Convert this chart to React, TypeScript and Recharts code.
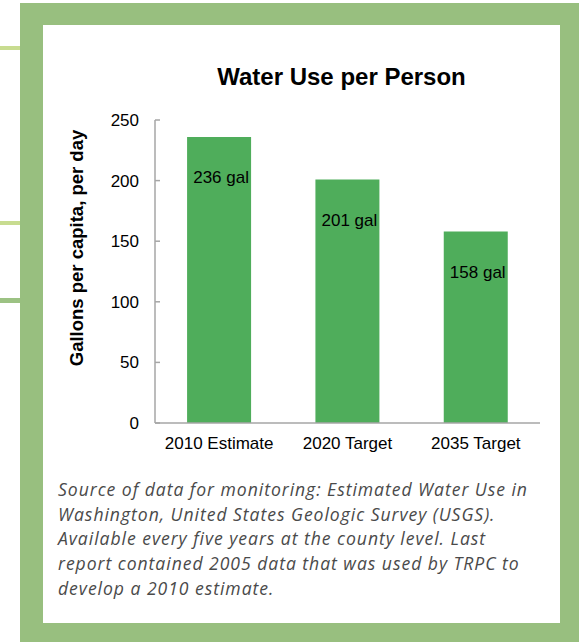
import React from "react";
import { BarChart, Bar, XAxis, YAxis, LabelList, Label } from "recharts";

const categories = ["2010 Estimate", "2020 Target", "2035 Target"];
const gallons = [236, 201, 158];
const yTicks = [0, 50, 100, 150, 200, 250];
const title = "Water Use per Person";
const yTitle = "Gallons per capita, per day";
const captionLines = [
  "Source of data for monitoring: Estimated Water Use in",
  "Washington, United States Geologic Survey (USGS).",
  "Available every five years at the county level. Last",
  "report contained 2005 data that was used by TRPC to",
  "develop a 2010 estimate.",
];

const data = categories.map((c, i) => ({ name: c, value: gallons[i] }));

const FONT = "'Liberation Sans', Arial, sans-serif";
const AXIS = "#a6a6a6";

const BarLabel = (props: any) => {
  const { x, y, width, value } = props;
  return (
    <text
      x={x + width / 2 + 2}
      y={y + 41}
      textAnchor="middle"
      dominantBaseline="central"
      fontFamily={FONT}
      fontSize={17}
      fill="#000"
    >
      {value} gal
    </text>
  );
};

const YTick = (props: any) => {
  const { x, y, payload } = props;
  return (
    <g>
      <line x1={x + 16} x2={x + 21} y1={y} y2={y} stroke={AXIS} strokeWidth={1.5} />
      <text x={x} y={y} dy="0.355em" textAnchor="end" fontFamily={FONT} fontSize={17} fill="#000">
        {payload.value}
      </text>
    </g>
  );
};

export default function App() {
  return (
    <div style={{ position: "absolute", left: 0, top: 0, width: 579, height: 642, background: "#fff", overflow: "hidden" }}>
      <div style={{ position: "absolute", left: 20, top: 3, width: 559, height: 639, background: "#98bf7f" }} />
      <div style={{ position: "absolute", left: 0, top: 46, width: 20, height: 4, background: "#c8dc90" }} />
      <div style={{ position: "absolute", left: 0, top: 221, width: 20, height: 4, background: "#c8dc90" }} />
      <div style={{ position: "absolute", left: 0, top: 298, width: 20, height: 5, background: "#9cc283" }} />
      <div style={{ position: "absolute", left: 43, top: 25, width: 517, height: 598, background: "#fff" }} />
      <div
        style={{
          position: "absolute",
          left: 150,
          width: 383,
          top: 62,
          textAlign: "center",
          fontFamily: FONT,
          fontWeight: "bold",
          fontSize: 24,
          lineHeight: "30px",
          color: "#000",
        }}
      >
        {title}
      </div>
      <div style={{ position: "absolute", left: 0, top: 0 }}>
        <BarChart
          width={579}
          height={470}
          data={data}
          margin={{ top: 120, right: 39, bottom: 17, left: 95 }}
          barCategoryGap="25%"
        >
          <XAxis
            dataKey="name"
            tickLine={false}
            tickSize={0}
            tickMargin={14}
            height={30}
            axisLine={{ stroke: AXIS, strokeWidth: 1.5 }}
            tick={{ fill: "#000", fontSize: 17, fontFamily: FONT }}
          />
          <YAxis
            domain={[0, 250]}
            ticks={yTicks}
            width={60}
            tickSize={0}
            tickMargin={16}
            tickLine={false}
            axisLine={{ stroke: AXIS, strokeWidth: 1.5 }}
            tick={YTick}
          >
            <Label
              content={() => (
                <text
                  x={83}
                  y={248}
                  transform="rotate(-90 83 248)"
                  textAnchor="middle"
                  fontFamily={FONT}
                  fontWeight="bold"
                  fontSize={18.5}
                  fill="#000"
                >
                  {yTitle}
                </text>
              )}
            />
          </YAxis>
          <Bar dataKey="value" fill="#4fad5b" isAnimationActive={false}>
            <LabelList dataKey="value" content={BarLabel} />
          </Bar>
        </BarChart>
      </div>
      <div
        style={{
          position: "absolute",
          left: 58,
          top: 477,
          width: 495,
          fontFamily: "'Open Sans', sans-serif",
          fontStyle: "italic",
          fontWeight: 400,
          fontSize: 17.6,
          letterSpacing: "0.95px",
          lineHeight: "24.7px",
          color: "#4a4a4a",
          whiteSpace: "nowrap",
        }}
      >
        {captionLines.map((l, i) => (
          <div key={i}>{l}</div>
        ))}
      </div>
    </div>
  );
}
